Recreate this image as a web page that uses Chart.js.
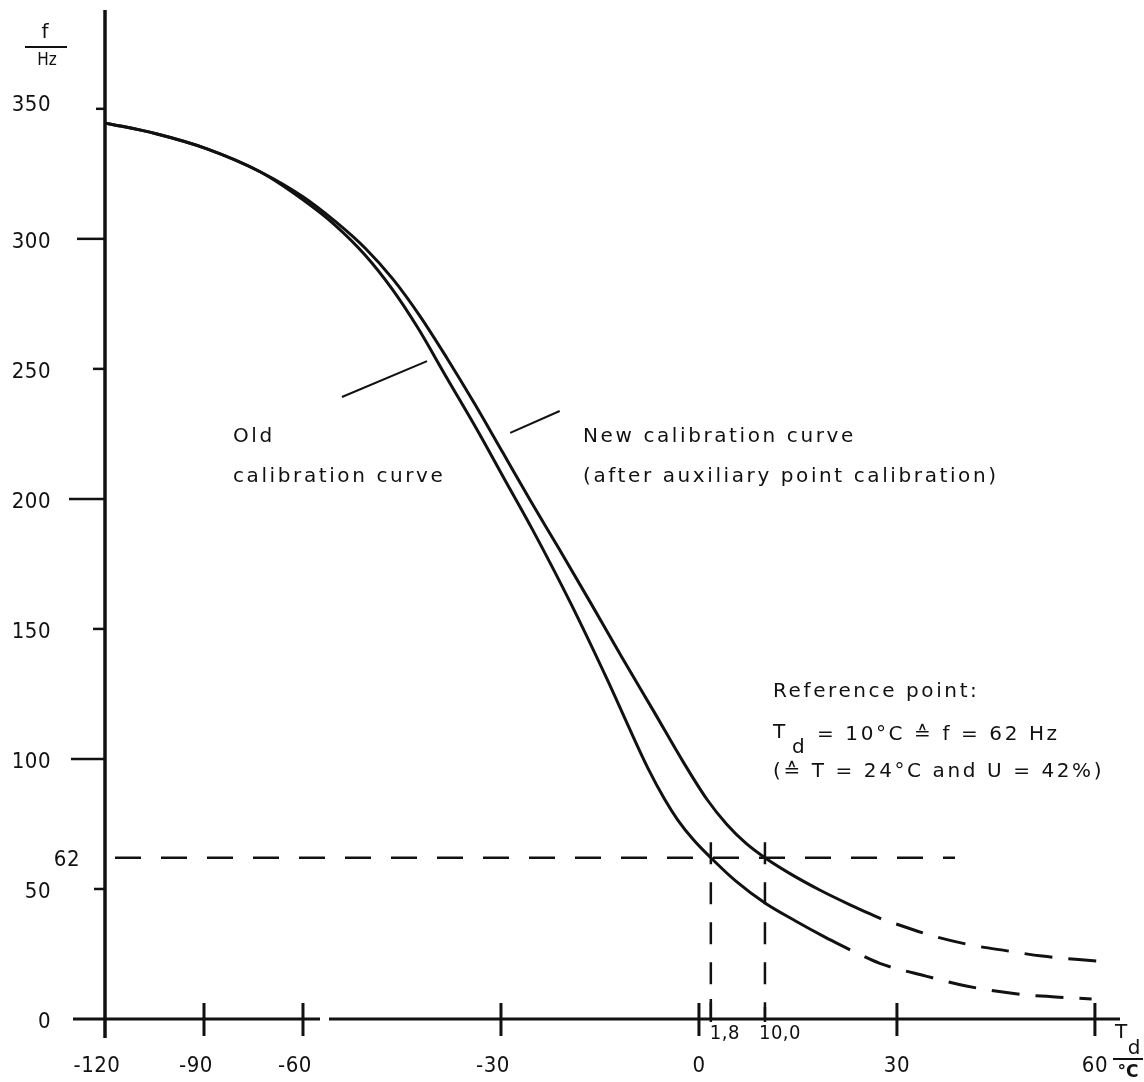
<!DOCTYPE html>
<html><head><meta charset="utf-8">
<script src="https://cdn.jsdelivr.net/npm/chart.js@4.4.1/dist/chart.umd.min.js"></script>
<style>html,body{margin:0;padding:0;background:#fff;}#wrap{width:1144px;height:1082px;}</style>
</head><body><div id="wrap"><canvas id="c" width="1144" height="1082"></canvas></div>
<script>
// ---------- data (Td in °C, f in Hz) ----------
const tdOld  = [-120,-104.5,-89.1,-73,-60,-55.2,-50.6,-46.4,-42.6,-38.2,-33.6,-29.4,-25.2,-19.5,-13.8,-10.8,-7.7,-5.2,-3.2,-0.8,1.8,5.6,10,14.7,19.1,22.9];
const fOld   = [344.6,340.4,334.6,325.8,315,305.4,293.8,280.4,265.8,246.5,226.5,207.3,188.1,160.2,130.0,113.2,96.3,84.5,76.5,68.8,62,53.0,44.6,37.6,31.5,26.6];
const tdOldExt = [22.9,27.4,34.4,40.5,48.3,54,59.5];
const fOldExt  = [26.6,21.4,16.5,12.7,9.6,8.5,7.7];
const tdNew  = [-120,-104.5,-89.1,-73,-60,-55.2,-50.6,-46.4,-42.3,-38.2,-33.9,-29.7,-25.5,-21.2,-16.5,-11.7,-6.8,-2.3,1.2,4.2,7.1,10,13.8,18.3,22.9,27.6];
const fNew   = [344.6,340.4,334.6,325.8,316.2,306.9,296.5,284.6,270.4,254.2,236.2,217.7,199.2,180.8,160.4,139.2,118.1,98.5,84.5,74.9,67.6,62,55.9,49.6,43.9,38.5];
const tdNewExt = [27.6,35.5,41.1,46.7,52,60.3];
const fNewExt  = [38.5,31.9,28.5,26.2,24.2,22.3];
const refTd = [1.8, 10.0];
const refTdLabels = ['1,8', '10,0'];
const refF = 62;
const refLineEndTd = 38.8;
const xTickValues = [-120,-90,-60,-30,0,30,60];
const xTickLabels = ['-120','-90','-60','-30','0','30','60'];
const yTickValues = [0,50,100,150,200,250,300,350];
const yTickLabels = ['0','50','100','150','200','250','300','350'];

// ---------- broken x scale: below -60 °C the axis is compressed by 2 ----------
const squeezeTd = v => v >= -60 ? v : -60 + (v + 60) / 2;
const unsqueezeTd = u => u >= -60 ? u : -60 + (u + 60) * 2;
class BrokenLinearScale extends Chart.LinearScale {
  configure() {
    super.configure();
    this._startValue = squeezeTd(this.min);
    this._endValue = squeezeTd(this.max);
    this._valueRange = this._endValue - this._startValue;
  }
  getPixelForValue(value) {
    if (value === null || value === undefined || isNaN(value)) return NaN;
    return this.getPixelForDecimal((squeezeTd(value) - this._startValue) / this._valueRange);
  }
  getValueForPixel(pixel) {
    return unsqueezeTd(this._startValue + this.getDecimalForPixel(pixel) * this._valueRange);
  }
}
BrokenLinearScale.id = 'brokenLinear';
BrokenLinearScale.defaults = Chart.LinearScale.defaults;
Chart.register(BrokenLinearScale);

const pts = (xs, ys) => xs.map((x, i) => ({x, y: ys[i]}));
const INK = '#111';
const LABEL_FONT = "22px 'DejaVu Sans Condensed', 'Liberation Sans Narrow', 'DejaVu Sans', sans-serif";
const TEXT_FONT = "20px 'DejaVu Sans', Verdana, sans-serif";

const decor = {
  id: 'decor',
  afterDraw(chart) {
    const c = chart.ctx, xs = chart.scales.x, ys = chart.scales.y, a = chart.chartArea;
    const X = v => xs.getPixelForValue(v), Y = v => ys.getPixelForValue(v);
    const x0 = X(-120), y0 = Y(0);
    c.save();
    c.strokeStyle = INK; c.fillStyle = INK; c.lineCap = 'butt';
    // y axis
    c.lineWidth = 3.5;
    c.beginPath(); c.moveTo(x0, a.top); c.lineTo(x0, y0 + 19); c.stroke();
    // y ticks (left side)
    const yTickLen = {0:0, 50:11, 100:34, 150:12, 200:36, 250:12, 300:28, 350:9};
    c.lineWidth = 2.5;
    yTickValues.forEach(v => {
      const L = yTickLen[v]; if (!L) return;
      c.beginPath(); c.moveTo(x0 - L, Y(v)); c.lineTo(x0, Y(v)); c.stroke();
    });
    // x axis with break after -60
    const xb = X(-60);
    c.lineWidth = 3;
    c.beginPath(); c.moveTo(73, y0); c.lineTo(xb + 17, y0); c.stroke();
    c.beginPath(); c.moveTo(xb + 26, y0); c.lineTo(a.right, y0); c.stroke();
    // x ticks
    xTickValues.forEach(v => {
      if (v === -120) return;
      c.beginPath(); c.moveTo(X(v), y0 - 16); c.lineTo(X(v), y0 + 17); c.stroke();
    });
    c.lineWidth = 2.5;
    c.beginPath(); c.moveTo(X(refTd[0]), y0 - 20); c.lineTo(X(refTd[0]), y0 + 3); c.stroke();
    c.beginPath(); c.moveTo(X(refTd[1]), y0 - 12); c.lineTo(X(refTd[1]), y0 + 3); c.stroke();

    // tick labels
    c.font = LABEL_FONT; c.letterSpacing = '0.5px';
    c.textBaseline = 'middle'; c.textAlign = 'right';
    yTickValues.forEach((v, i) => {
      c.fillText(yTickLabels[i], 51, Y(v) + (v === 350 ? -4 : 3));
    });
    c.fillText(String(refF), 80, Y(refF) + 3);
    c.textAlign = 'center';
    xTickValues.forEach((v, i) => {
      const lab = xTickLabels[i];
      c.fillText(lab, X(v) - (lab[0] === '-' ? 8 : 0), y0 + 47);
    });
    c.font = "20px 'DejaVu Sans Condensed', 'Liberation Sans Narrow', 'DejaVu Sans', sans-serif";
    c.textAlign = 'left';
    c.fillText(refTdLabels[0], X(refTd[0]) - 1, y0 + 15);
    c.fillText(refTdLabels[1], X(refTd[1]) - 6, y0 + 15);

    // axis titles
    c.letterSpacing = '0px';
    c.textAlign = 'center';
    c.font = "20px 'DejaVu Sans', sans-serif";
    c.fillText('f', 45, 33);
    c.font = "17px 'DejaVu Sans Condensed', 'DejaVu Sans', sans-serif";
    c.fillText('Hz', 47, 61);
    c.lineWidth = 2;
    c.beginPath(); c.moveTo(25, 47); c.lineTo(67, 47); c.stroke();
    c.font = "20px 'DejaVu Sans', sans-serif";
    c.fillText('T', 1121, 1033);
    c.fillText('d', 1134, 1049);
    c.beginPath(); c.moveTo(1113, 1059); c.lineTo(1143, 1059); c.stroke();
    c.font = "bold 17px 'DejaVu Sans', sans-serif";
    c.fillText('°C', 1128, 1073);

    // leader lines
    c.lineWidth = 2;
    c.beginPath(); c.moveTo(X(-54.1), Y(239.2)); c.lineTo(X(-41.2), Y(253)); c.stroke();
    c.beginPath(); c.moveTo(X(-28.6), Y(225.4)); c.lineTo(X(-21.1), Y(233.8)); c.stroke();

    // annotations
    c.font = TEXT_FONT; c.letterSpacing = '2.6px';
    c.textAlign = 'left'; c.textBaseline = 'middle';
    c.fillText('Old', 233, 437);
    c.fillText('calibration curve', 233, 477);
    c.fillText('New calibration curve', 583, 437);
    c.fillText('(after auxiliary point calibration)', 583, 477);
    c.fillText('Reference point:', 773, 692);
    c.fillText('T', 773, 733);
    c.fillText('d', 792, 748);
    c.fillText('= 10°C ≙ f = 62 Hz', 817, 735);
    c.fillText('(≙ T = 24°C and U = 42%)', 773, 772);
    c.restore();
  }
};

const curve = {borderColor: INK, borderWidth: 3, pointRadius: 0, fill: false, cubicInterpolationMode: 'monotone'};
new Chart(document.getElementById('c'), {
  type: 'line',
  data: { datasets: [
    Object.assign({label: 'Old calibration curve', data: pts(tdOld, fOld)}, curve),
    Object.assign({label: 'Old calibration curve (extrapolated)', data: pts(tdOldExt, fOldExt), borderDash: [28, 16], borderDashOffset: 28}, curve),
    Object.assign({label: 'New calibration curve', data: pts(tdNew, fNew)}, curve),
    Object.assign({label: 'New calibration curve (extrapolated)', data: pts(tdNewExt, fNewExt), borderDash: [28, 16], borderDashOffset: 28}, curve),
    {label: 'f = 62 Hz', data: [{x: -120, y: refF}, {x: refLineEndTd, y: refF}], borderColor: INK, borderWidth: 2.5, pointRadius: 0, borderDash: [26, 20], borderDashOffset: -10, tension: 0},
    {label: 'Td = 1.8', data: [{x: refTd[0], y: refF + 6}, {x: refTd[0], y: 0}], borderColor: INK, borderWidth: 2.5, pointRadius: 0, borderDash: [22, 18], tension: 0},
    {label: 'Td = 10', data: [{x: refTd[1], y: refF + 6}, {x: refTd[1], y: 0}], borderColor: INK, borderWidth: 2.5, pointRadius: 0, borderDash: [22, 18], tension: 0}
  ]},
  options: {
    responsive: false, animation: false,
    layout: {padding: {left: 105, right: 24, top: 10, bottom: 63}},
    plugins: {legend: {display: false}, tooltip: {enabled: false}},
    scales: {
      x: {type: 'brokenLinear', min: -120, max: 63.8, display: false},
      y: {type: 'linear', min: 0, max: 388, display: false}
    }
  },
  plugins: [decor]
});
</script></body></html>
